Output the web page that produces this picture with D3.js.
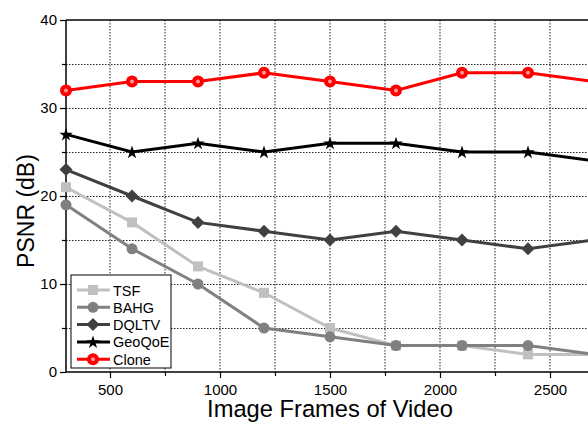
<!DOCTYPE html>
<html>
<head>
<meta charset="utf-8">
<script src="https://cdn.jsdelivr.net/npm/d3@7"></script>
<style>
  body { margin: 0; background: #fff; }
  svg { display: block; font-family: "Liberation Sans", Arial, sans-serif; }
</style>
</head>
<body>
<svg id="plotCanvas" width="588" height="422"></svg>
<script>
// frames on the x axis
var frames = [300, 600, 900, 1200, 1500, 1800, 2100, 2400, 2700];
var seriesNames = ["TSF", "BAHG", "DQLTV", "GeoQoE", "Clone"];
var tsf    = [21, 17, 12, 9, 5, 3, 3, 2, 2];
var bahg   = [19, 14, 10, 5, 4, 3, 3, 3, 2];
var dqltv  = [23, 20, 17, 16, 15, 16, 15, 14, 15];
var geoqoe = [27, 25, 26, 25, 26, 26, 25, 25, 24];
var clone  = [32, 33, 33, 34, 33, 32, 34, 34, 33];
var xTicks = [500, 1000, 1500, 2000, 2500];
var xMinor = [750, 1250, 1750, 2250, 2750];
var yTicks = [0, 10, 20, 30, 40];
var yMinor = [5, 15, 25, 35];

var canvas = d3.select("#plotCanvas");

// note: "top" is reserved on window, so plotTop / plotBottom
var plotLeft = 66, plotTop = 20, plotBottom = 372;
// axis runs past the picture's right edge (it is cropped)
var x = d3.scaleLinear().domain([300, 3000]).range([plotLeft, plotLeft + 2700 * 0.22]);
var y = d3.scaleLinear().domain([0, 40]).range([plotBottom, plotTop]);

//dotted grid at major and minor positions
var gridX = xTicks.concat(xMinor);
var gridY = yTicks.concat(yMinor).filter(function(d){ return d > 0 && d < 40; });
canvas.append("g").selectAll("line").data(gridX).enter().append("line")
    .attr("x1", function(d){ return x(d); })
    .attr("x2", function(d){ return x(d); })
    .attr("y1", plotTop).attr("y2", plotBottom)
    .attr("stroke", "#222").attr("stroke-width", 1).attr("stroke-dasharray", "1.5,1.5");
canvas.append("g").selectAll("line").data(gridY).enter().append("line")
    .attr("x1", plotLeft).attr("x2", 588)
    .attr("y1", function(d){ return y(d) + 0.5; })
    .attr("y2", function(d){ return y(d) + 0.5; })
    .attr("stroke", "#222").attr("stroke-width", 1).attr("stroke-dasharray", "1.5,1.5");

//top frame line
canvas.append("line")
    .attr("x1", plotLeft).attr("x2", 588).attr("y1", plotTop).attr("y2", plotTop)
    .attr("stroke", "black").attr("stroke-width", 1.5);

//axes
canvas.append("g").attr("transform", "translate(0," + plotBottom + ")")
    .call(d3.axisBottom(x).tickValues(xTicks).tickSize(6).tickPadding(6).tickFormat(d3.format("d")));
canvas.append("g").attr("transform", "translate(0," + plotBottom + ")")
    .call(d3.axisBottom(x).tickValues(xMinor).tickSize(4).tickFormat(""));
canvas.append("g").attr("transform", "translate(" + plotLeft + ",0)")
    .call(d3.axisLeft(y).tickValues(yTicks).tickSize(6).tickPadding(3));
canvas.append("g").attr("transform", "translate(" + plotLeft + ",0)")
    .call(d3.axisLeft(y).tickValues(yMinor).tickSize(4).tickFormat(""));
canvas.selectAll(".tick line").attr("stroke", "black").attr("stroke-width", 1.2);
canvas.selectAll(".tick text").attr("font-size", "15px").attr("fill", "black")
    .attr("font-family", "Liberation Sans, Arial, sans-serif");
//plain axis lines instead of the domain paths
canvas.selectAll(".domain").remove();
canvas.append("line").attr("x1", plotLeft).attr("x2", 588).attr("y1", plotBottom).attr("y2", plotBottom)
    .attr("stroke", "black").attr("stroke-width", 1.5);
canvas.append("line").attr("x1", plotLeft).attr("x2", plotLeft).attr("y1", plotTop).attr("y2", plotBottom)
    .attr("stroke", "black").attr("stroke-width", 1.5);

//axis titles
canvas.append("text")
    .attr("x", 330).attr("y", 417)
    .attr("text-anchor", "middle").attr("font-size", "23.7px").attr("fill", "black")
    .text("Image Frames of Video");
canvas.append("text")
    .attr("transform", "translate(34,211) rotate(-90)")
    .attr("text-anchor", "middle").attr("font-size", "23px").attr("fill", "black")
    .text("PSNR (dB)");

var series = [
  {name: seriesNames[0], values: tsf, color: "#c0c0c0", marker: "square"},
  {name: seriesNames[1], values: bahg, color: "#808080", marker: "circle"},
  {name: seriesNames[2], values: dqltv, color: "#404040", marker: "diamond"},
  {name: seriesNames[3], values: geoqoe, color: "#000000", marker: "star"},
  {name: seriesNames[4], values: clone, color: "#ff0000", marker: "clone"}
];

function drawMarker(g, type, color, cx, cy)
{
   if (type == "square")
   {
      g.append("rect").attr("x", cx - 5).attr("y", cy - 5).attr("width", 10).attr("height", 10).attr("fill", color);
   }
   else if (type == "circle")
   {
      g.append("circle").attr("cx", cx).attr("cy", cy).attr("r", 5.5).attr("fill", color);
   }
   else if (type == "diamond")
   {
      var h = 6.5;
      g.append("path")
          .attr("d", "M" + cx + "," + (cy - h) + "L" + (cx + h) + "," + cy + "L" + cx + "," + (cy + h) + "L" + (cx - h) + "," + cy + "Z")
          .attr("fill", color);
   }
   else if (type == "star")
   {
      g.append("path").attr("d", d3.symbol().type(d3.symbolStar).size(55)())
          .attr("transform", "translate(" + cx + "," + (cy + 0.5) + ")").attr("fill", color);
   }
   else if (type == "clone")
   {
      //red dot with a soft highlight in the middle
      g.append("circle").attr("cx", cx).attr("cy", cy).attr("r", 6).attr("fill", color);
      g.append("circle").attr("cx", cx).attr("cy", cy).attr("r", 2).attr("fill", "#ff9a9a");
   }
}

var line = d3.line()
    .x(function(d, i){ return x(frames[i]); })
    .y(function(d){ return y(d); });

series.forEach(function(s)
{
   var g = canvas.append("g");
   g.append("path").datum(s.values).attr("d", line)
       .attr("fill", "none").attr("stroke", s.color).attr("stroke-width", 3);
   s.values.forEach(function(v, i){ drawMarker(g, s.marker, s.color, x(frames[i]), y(v)); });
});

//legend
var lg = canvas.append("g");
lg.append("rect").attr("x", 71).attr("y", 275).attr("width", 100).attr("height", 93)
    .attr("fill", "white").attr("stroke", "black").attr("stroke-width", 1);
series.forEach(function(s, i)
{
   var ly = 290 + i * 17.3;
   lg.append("line").attr("x1", 77).attr("x2", 110).attr("y1", ly).attr("y2", ly)
       .attr("stroke", s.color).attr("stroke-width", 3);
   drawMarker(lg, s.marker, s.color, 93, ly);
   lg.append("text").attr("x", 113).attr("y", ly + 5.5).attr("font-size", "14.5px").attr("fill", "black")
       .text(s.name);
});
</script>
</body>
</html>
